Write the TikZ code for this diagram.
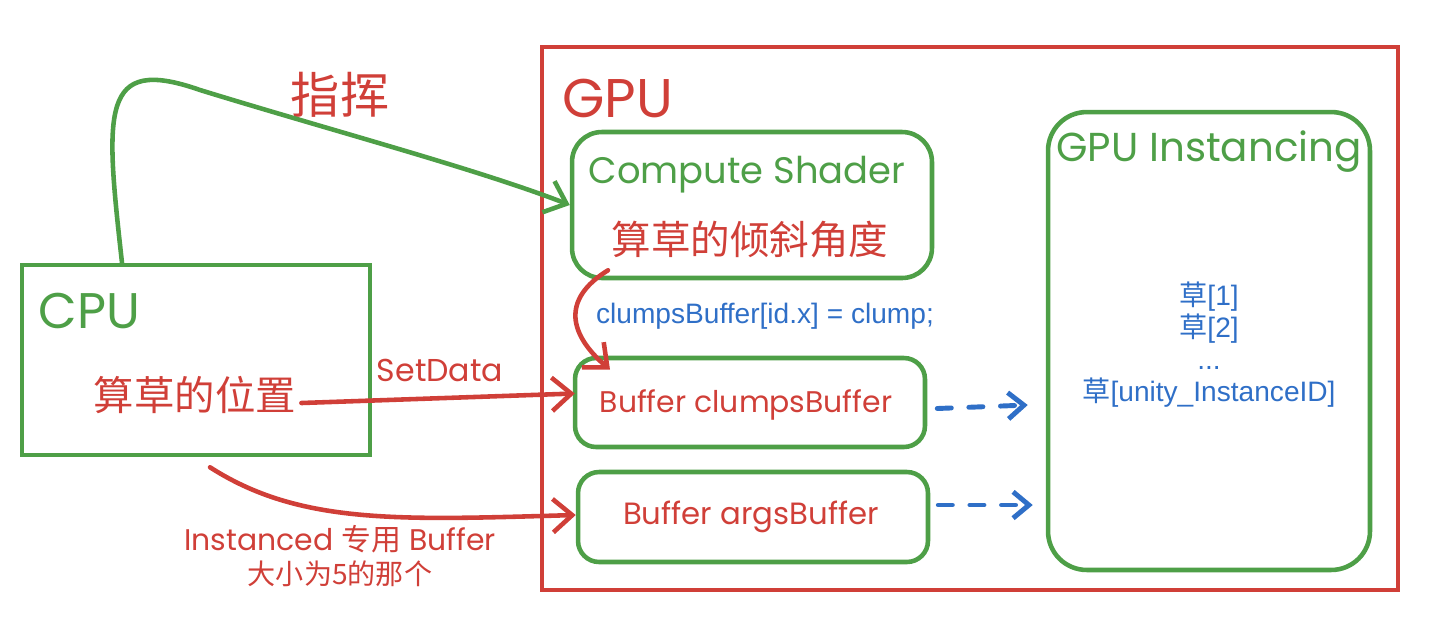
\documentclass[tikz,border=0pt]{standalone}
\usepackage{fontspec}
\setmainfont{Poppins}
\newfontfamily\cjk{Noto Sans CJK SC}
\newfontfamily\arialf{Liberation Sans}
\usetikzlibrary{arrows.meta,positioning,calc}
\definecolor{cgreen}{HTML}{4E9F47}
\definecolor{cred}{HTML}{D03F38}
\definecolor{cblue}{HTML}{2F6FC7}
\newcommand{\fsz}[1]{\fontsize{#1}{1.2\dimexpr#1\relax}\selectfont}
\tikzset{
  gbox/.style={draw=cgreen, line width=2.6pt, rounded corners=#1, inner sep=0pt},
  gbox/.default=0pt,
  rbox/.style={draw=cred, line width=2.6pt, inner sep=0pt},
  hand/.style={font=\fsz{#1}, inner sep=0pt},
  gtxt/.style={hand=#1, text=cgreen},
  rtxt/.style={hand=#1, text=cred},
  btxt/.style={font=\arialf\fsz{16pt}, text=cblue, inner sep=0pt},
  rarr/.style={draw=cred, line width=2.6pt, line cap=round, -{Straight Barb[length=11pt, width=19pt, line width=2.6pt]}},
  garr/.style={draw=cgreen, line width=2.6pt, line cap=round, -{Straight Barb[length=11pt, width=19pt, line width=2.6pt]}},
  barr/.style={draw=cblue, line width=2.8pt, line cap=round, dash pattern=on 8pt off 10pt, -{Straight Barb[length=9pt, width=15pt, line width=2.8pt]}},
}
\begin{document}
\begin{tikzpicture}[x=0.02cm, y=-0.02cm]
\useasboundingbox (0,0) rectangle (1440,620);
% boxes
\node[rbox, minimum width=17.12cm, minimum height=10.86cm] (gpu) at (970,318.5) {};
\node[gbox, minimum width=6.96cm, minimum height=3.8cm] (cpu) at (196,360) {};
\node[gbox=17pt, minimum width=7.2cm, minimum height=2.92cm] (cs) at (752,205) {};
\node[gbox=12pt, minimum width=7.0cm, minimum height=1.78cm] (cb) at (750,402.5) {};
\node[gbox=12pt, minimum width=7.0cm, minimum height=1.8cm] (ab) at (753,517) {};
\node[gbox=22pt, minimum width=6.44cm, minimum height=9.16cm] (gi) at (1209,341) {};
% texts
\node[rtxt=31pt, anchor=west] (gpulbl) at (562,98) {GPU};
\node[gtxt=28.5pt, anchor=west] (cpulbl) at (38,311) {CPU};
\node[rtxt=23pt] (pos) at (195,395) {\cjk 算草的位置};
\node[rtxt=28pt] (cmd) at (340,95) {\cjk 指挥};
\node[gtxt=21pt] (cslbl) at (747,175) {Compute Shader};
\node[rtxt=22.5pt] (angle) at (750,240) {\cjk 算草的倾斜角度};
\node[btxt] (code) at (765,316) {clumpsBuffer[id.x] = clump;};
\node[rtxt=17pt] (cbtxt) at (746,405) {Buffer clumpsBuffer};
\node[rtxt=17.5pt] (abtxt) at (751,517) {Buffer argsBuffer};
\node[gtxt=23pt] (gilbl) at (1209,152) {GPU Instancing};
\node[btxt, align=center, font=\arialf\fontsize{16pt}{18.2pt}\selectfont] (grass) at (1209,345)
  {{\cjk 草}[1]\\{\cjk 草}[2]\\...\\{\cjk 草}[unity\_InstanceID]};
\node[rtxt=18pt] (setdata) at (440,370) {SetData};
\node[rtxt=17pt, align=center] (inst) at (340,556)
  {Instanced {\cjk 专用} Buffer\\[-1pt]{\cjk\fsz{16pt}大小为5的那个}};
% connectors
\draw[garr] ($(cpu.north)+(-74,0)$) .. controls (105,110) and (100,55) .. (200,90)
  .. controls (330,130) and (480,170) .. (cs.west);
\draw[rarr] (pos.east)+(5,8) -- ($(cb.west)+(2,-9)$);
\draw[rarr] ($(cpu.south)+(14,10)$) .. controls (300,525) and (400,520) .. ($(ab.west)+(0,-2)$);
\draw[rarr] ($(cs.south)+(-144,-10)$) .. controls (560,300) and (570,335) .. ($(cb.north)+(-140,14)$);
\draw[barr] ($(cb.east)+(10,6)$) -- ($(gi.west)+(-18,64)$);
\draw[barr] ($(ab.east)+(8,-12)$) -- ($(gi.west)+(-13,164)$);
\end{tikzpicture}
\end{document}
